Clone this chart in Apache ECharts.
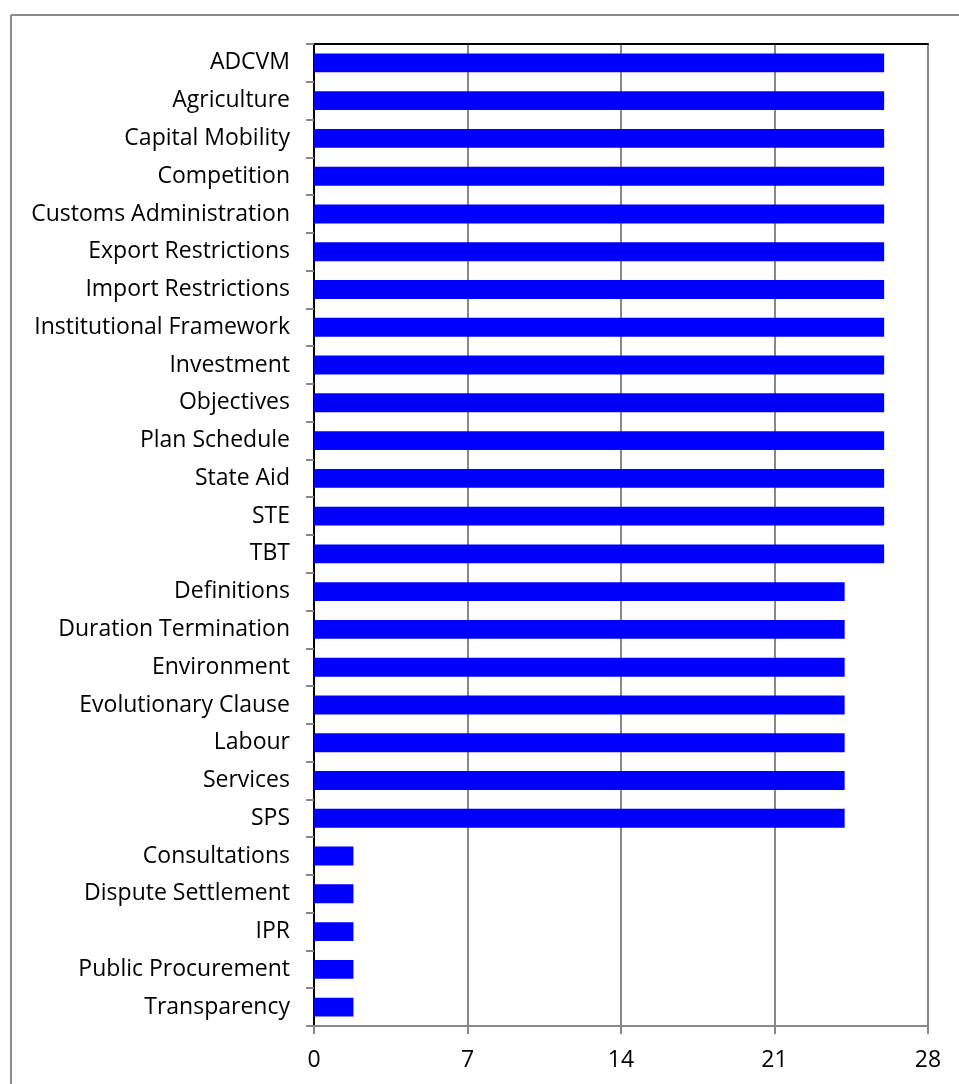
<!DOCTYPE html>
<html>
<head>
<meta charset="utf-8">
<script src="https://cdn.jsdelivr.net/npm/echarts@6/dist/echarts.min.js"></script>
<style>
  html, body { margin: 0; padding: 0; background: #fff; }
  #main { width: 959px; height: 1084px; }
</style>
</head>
<body>
<div id="main"></div>
<script>
// 类别（从上到下）
const categories = [
  'ADCVM', 'Agriculture', 'Capital Mobility', 'Competition', 'Customs Administration',
  'Export Restrictions', 'Import Restrictions', 'Institutional Framework', 'Investment',
  'Objectives', 'Plan Schedule', 'State Aid', 'STE', 'TBT',
  'Definitions', 'Duration Termination', 'Environment', 'Evolutionary Clause',
  'Labour', 'Services', 'SPS',
  'Consultations', 'Dispute Settlement', 'IPR', 'Public Procurement', 'Transparency'
]
// 数值
const values = [
  26, 26, 26, 26, 26, 26, 26, 26, 26, 26, 26, 26, 26, 26,
  24.2, 24.2, 24.2, 24.2, 24.2, 24.2, 24.2,
  1.8, 1.8, 1.8, 1.8, 1.8
]
// x轴刻度
const xTicks = [0, 7, 14, 21, 28]

const chartDom = document.getElementById('main')
const myChart = echarts.init(chartDom)
const labelFont = '"Open Sans", sans-serif'
const option = {
  animation: false,
  graphic: [
    { type: 'line', shape: { x1: 11, y1: 15, x2: 959, y2: 15 }, style: { stroke: '#8c8c8c', lineWidth: 2 } },
    { type: 'line', shape: { x1: 11, y1: 15, x2: 11, y2: 1084 }, style: { stroke: '#8c8c8c', lineWidth: 2 } }
  ],
  grid: { left: 314, right: 31, top: 44, bottom: 58, containLabel: false },
  xAxis: [
    {
      type: 'value',
      min: xTicks[0],
      max: xTicks[xTicks.length - 1],
      interval: 7,
      axisLine: { show: true, lineStyle: { color: '#888', width: 2 } },
      axisTick: { show: true, length: 8, lineStyle: { color: '#888', width: 2 } },
      axisLabel: { fontFamily: labelFont, fontSize: 23, color: '#000', margin: 23 },
      splitLine: { show: true, lineStyle: { color: '#888', width: 2 } }
    },
    {
      type: 'value', position: 'top', min: 0, max: 28,
      axisLine: { show: true, lineStyle: { color: '#000', width: 2 } },
      axisTick: { show: false }, axisLabel: { show: false }, splitLine: { show: false }
    }
  ],
  yAxis: [
    {
      type: 'category',
      data: categories,
      inverse: true,
      axisLine: { show: true, lineStyle: { color: '#888', width: 2 } },
      axisTick: { show: true, length: 8, lineStyle: { color: '#888', width: 2 } },
      axisLabel: { fontFamily: labelFont, fontSize: 23, color: '#000', margin: 24, interval: 0 }
    },
    {
      type: 'category', position: 'right', data: categories, inverse: true,
      axisLine: { show: true, lineStyle: { color: '#000', width: 2 } },
      axisTick: { show: false }, axisLabel: { show: false }
    }
  ],
  series: [
    {
      type: 'bar',
      data: values,
      barWidth: '50%',
      itemStyle: { color: '#0000ff' }
    }
  ]
}
option && myChart.setOption(option)
</script>
</body>
</html>
